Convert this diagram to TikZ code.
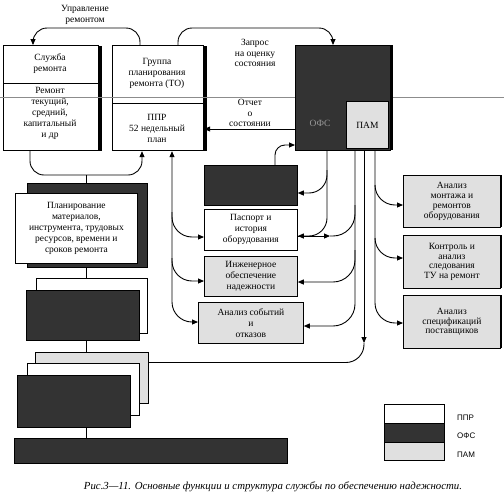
\documentclass[tikz,border=0pt]{standalone}
\usepackage{fontspec}
\setmainfont{Liberation Serif}
\newfontfamily\legfont{Liberation Sans}
\usetikzlibrary{arrows.meta, shadows}
\pgfdeclarelayer{bg}
\pgfsetlayers{bg,main}
\tikzset{
    every node/.style={align=center, inner sep=0pt,
    	font=\fontsize{9.5}{11}\selectfont},
    box/.style={draw, rectangle, line width=0.8pt, anchor=north west},
    pprbox/.style={box, fill=white},
    ofsbox/.style={box, fill=black!80},
    pambox/.style={box, fill=black!12},
    shad/.style={drop shadow={shadow xshift=#1, shadow yshift=0pt,
    	fill=black, opacity=1}},
    shad/.default=3pt,
    small/.style={font=\fontsize{9.5}{9.8}\selectfont},
    lbl/.style={font=\fontsize{9.5}{10.5}\selectfont},
    legtxt/.style={anchor=west, font=\legfont\fontsize{8}{9}\selectfont},
    conn/.style={line width=0.9pt},
    arr/.style={conn, -{Triangle[length=6pt,width=5pt]}},
    arrtwo/.style={conn, {Triangle[length=6pt,width=5pt]}-{Triangle[length=6pt,width=5pt]}}
}

\begin{document}
\begin{tikzpicture}[x=1pt, y=-1pt]
  \useasboundingbox (0,0) rectangle (504,504);

  % top row
  \node (sr) [pprbox, shad, line width=1.2pt, minimum width=95pt, minimum height=105pt] at (3,45) {};
  \node (srt) at (50,64) {Служба\\ремонта};
  \node (srb) at (50,113) {Ремонт\\текущий,\\средний,\\капитальный\\и др};
  \node (gp) [pprbox, shad, line width=1.2pt, minimum width=91pt, minimum height=105pt] at (112,45) {};
  \node (gpt) at (157,73) {Группа\\планирования\\ремонта (ТО)};
  \node (gpb) at (157,128) {ППР\\52 недельный\\план};
  \draw (sr.west |- 0,83) -- (sr.east |- 0,83);
  \draw (gp.west |- 0,103) -- (gp.east |- 0,103);
  \draw[black!45, line width=0.4pt] (0,97) -- (504,97);
  \node (ofs) [ofsbox, shad, minimum width=95pt, minimum height=105pt] at (295,45) {};
  \node (pam) [pambox, minimum width=42pt, minimum height=47pt] at (346,101) {ПАМ};
  \node (ofst) [text=black!40] at (320,123) {ОФС};

  \node (lu) [lbl] at (85,15) {Управление\\ремонтом};
  \node (lz) [lbl] at (255,53) {Запрос\\на оценку\\состояния};
  \node (lo) [lbl, anchor=south] at (250,127) {Отчет\\о\\состоянии};

  % middle column
  \node (dk) [ofsbox, minimum width=93pt, minimum height=40pt] at (204,165) {};
  \node (pas) [pprbox, minimum width=93pt, minimum height=41pt] at (204,209) {Паспорт и\\история\\оборудования};
  \node (ing) [pambox, minimum width=93pt, minimum height=40pt] at (204,256) {Инженерное\\обеспечение\\надежности};
  \node (ana) [pambox, minimum width=105pt, minimum height=41pt] at (198,302) {Анализ событий\\и\\отказов};

  % right column
  \node (mon) [pambox, small, shad=2pt, minimum width=97pt, minimum height=52pt] at (403,175) {Анализ\\монтажа и\\ремонтов\\оборудования};
  \node (ctl) [pambox, small, shad=2pt, minimum width=97pt, minimum height=53pt] at (403,235) {Контроль и\\анализ\\следования\\ТУ на ремонт};
  \node (spc) [pambox, small, shad=2pt, minimum width=97pt, minimum height=53pt] at (403,295) {Анализ\\спецификаций\\поставщиков};

  % left stacks
  \node (pl0) [ofsbox, minimum width=120pt, minimum height=84pt] at (27,183) {};
  \node (pl) [pprbox, minimum width=122pt, minimum height=70pt] at (15,193) {Планирование\\материалов,\\инструмента, трудовых\\ресурсов, времени и\\сроков ремонта};
  \node (ob0) [pprbox, minimum width=111pt, minimum height=55pt] at (36,278) {};
  \node (ob) [ofsbox, minimum width=113pt, minimum height=50pt] at (26,290) {};
  \node (st0) [pambox, minimum width=113pt, minimum height=51pt] at (35,352) {};
  \node (st1) [pprbox, minimum width=112pt, minimum height=52pt] at (27,363) {};
  \node (st2) [ofsbox, minimum width=113pt, minimum height=52pt] at (17,375) {};
  \node (bar) [ofsbox, minimum width=273pt, minimum height=25pt] at (14,438) {};

  % legend
  \node (lg1) [pprbox, line width=0.6pt, minimum width=60pt, minimum height=19pt] at (384,404) {};
  \node (lg2) [ofsbox, line width=0.6pt, minimum width=60pt, minimum height=19pt] at (384,423) {};
  \node (lg3) [pambox, line width=0.6pt, minimum width=60pt, minimum height=18pt] at (384,442) {};
  \node (lt1) [legtxt] at (457,418) {ППР};
  \node (lt2) [legtxt] at (457,436) {ОФС};
  \node (lt3) [legtxt] at (457,455) {ПАМ};

  \node (cap) [font=\itshape\fontsize{10.8}{12}\selectfont] at (273,487)
  	{Рис.3—11. Основные функции и структура службы по обеспечению надежности.};

  \coordinate (jB) at (330,236);
  \coordinate (m1) at (364,343);

  \begin{pgfonlayer}{bg}
	  \draw[arr, rounded corners=14pt] (140,0 |- gp.north) |- (33,28) -- (33,0 |- sr.north);
	  \draw[arr, rounded corners=14pt] (178,0 |- gp.north) |- (333,28) -- (333,0 |- ofs.north);
	  \draw[arr] (ofs.west |- 0,129) -- (gp.east |- 0,129);
	  \draw[arr, rounded corners=10pt] (275,0 |- dk.north) |- (ofs.west |- 0,145);
	  \draw[arr, rounded corners=14pt] (30,0 |- sr.south) |- (86,175) -| (142,0 |- gp.south);
	  \draw[conn] (86,175) -- (86,0 |- pl0.north);
	  % from the planning group down
	  \draw[arrtwo, rounded corners=20pt] (172,0 |- gp.south) |- (ana.west |- 0,322);
	  \draw[arr, rounded corners=20pt] (172,212) |- (pas.west |- 0,237);
	  \draw[arr, rounded corners=20pt] (172,258) |- (ing.west |- 0,281);
	  % from OFS / PAM down
	  \draw[arr, rounded corners=18pt] (327,0 |- ofs.south) |- (pas.east |- 0,236);
	  \draw[arr, rounded corners=18pt] (327,170) |- (dk.east |- 0,193);
	  \draw[arr] (pas.east |- 0,236) -- (jB);
	  \draw[arr, rounded corners=22pt] (355,0 |- ofs.south) |- (ana.east |- 0,326);
	  \draw[conn, rounded corners=22pt] (355,205) |- (jB);
	  \draw[arr, rounded corners=22pt] (355,250) |- (ing.east |- 0,282);
	  \draw[arr] (364,0 |- ofs.south) -- (m1);
	  \draw[conn, rounded corners=18pt] (m1) |- (st0.east |- 0,362.5);
	  \draw[arr, rounded corners=20pt] (375,0 |- ofs.south) |- (spc.west |- 0,323);
	  \draw[arr, rounded corners=20pt] (375,185) |- (mon.west |- 0,205);
	  \draw[arr, rounded corners=20pt] (375,238) |- (ctl.west |- 0,258);
	  % stacks
	  \draw[conn] (86,0 |- pl.south) -- (86,0 |- ob0.north);
	  \draw[conn] (86,0 |- ob.south) -- (86,0 |- st0.north);
	  \draw[conn] (86,0 |- st2.south) -- (86,0 |- bar.north);
  \end{pgfonlayer}

\end{tikzpicture}
\end{document}
